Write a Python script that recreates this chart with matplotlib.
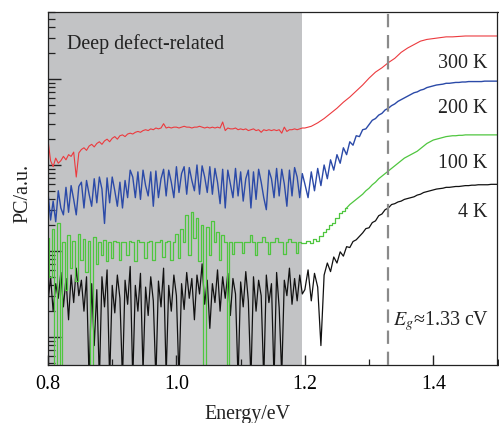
import numpy as np
import matplotlib
matplotlib.use("Agg")
import matplotlib.pyplot as plt
from matplotlib.ticker import LogLocator, NullFormatter, MultipleLocator

plt.rcParams['font.family'] = ['Liberation Serif', 'DejaVu Serif']
plt.rcParams['mathtext.fontset'] = 'stix'

# ---------------- data (log10 of photocurrent, arbitrary units) ----------------
# energy grids (eV)
energy_low = np.round(0.800 + 0.004 * np.arange(100), 3)       # 0.800 ... 1.196
energy_high = np.round(1.200 + 0.005 * np.arange(61), 3)       # 1.200 ... 1.500
energy_high_red = np.round(1.20 + 0.01 * np.arange(31), 2)     # 1.20 ... 1.50

labels = ["300 K", "200 K", "100 K", "4 K"]

log_pc_300K_low = [
    2.29, 2.05, 1.98, 2.08, 2.02, 2.05, 2.10, 2.06, 2.12, 2.10,
    2.15, 1.86, 2.14, 2.18, 2.20, 2.17, 2.22, 2.24, 2.21, 2.25,
    2.27, 2.24, 2.28, 2.30, 2.27, 2.31, 2.33, 2.30, 2.34, 2.35,
    2.33, 2.36, 2.37, 2.36, 2.38, 2.39, 2.38, 2.40, 2.41, 2.40,
    2.42, 2.41, 2.43, 2.42, 2.43, 2.48, 2.43, 2.44, 2.43, 2.44,
    2.44, 2.43, 2.44, 2.45, 2.44, 2.44, 2.43, 2.44, 2.44, 2.45,
    2.44, 2.43, 2.44, 2.43, 2.44, 2.43, 2.44, 2.43, 2.50, 2.40,
    2.43, 2.42, 2.42, 2.43, 2.41, 2.42, 2.41, 2.42, 2.40, 2.41,
    2.42, 2.40, 2.41, 2.38, 2.41, 2.40, 2.41, 2.40, 2.41, 2.40,
    2.41, 2.37, 2.44, 2.39, 2.41, 2.41, 2.42, 2.41, 2.42, 2.43,
]
log_pc_300K_high = [
    2.43, 2.45, 2.49, 2.54, 2.60, 2.66, 2.73, 2.79, 2.86, 2.93,
    3.01, 3.08, 3.13, 3.19, 3.24, 3.31, 3.36, 3.40, 3.44, 3.46,
    3.47, 3.48, 3.49, 3.49, 3.495, 3.50, 3.50, 3.50, 3.50, 3.50, 3.50,
]

log_pc_200K_low = [
    1.68, 1.36, 1.58, 1.34, 1.70, 1.50, 1.42, 1.74, 1.45, 1.76,
    1.60, 1.42, 1.75, 1.80, 1.50, 1.82, 1.66, 1.52, 1.84, 1.56,
    1.86, 1.72, 1.32, 1.85, 1.56, 1.86, 1.70, 1.52, 1.80, 1.50,
    1.82, 1.62, 1.94, 1.86, 1.62, 1.92, 1.60, 1.94, 1.76, 1.64,
    1.92, 1.52, 1.93, 1.62, 1.84, 1.95, 1.64, 1.94, 1.80, 1.62,
    1.98, 1.68, 1.90, 1.98, 1.66, 1.97, 1.82, 1.70, 2.00, 1.66,
    1.99, 1.86, 1.68, 1.98, 1.66, 1.96, 1.80, 1.55, 1.95, 1.50,
    1.94, 1.78, 1.62, 1.96, 1.64, 1.92, 1.58, 1.84, 1.94, 1.50,
    1.92, 1.60, 1.95, 1.80, 1.62, 1.48, 1.94, 1.84, 1.62, 1.96,
    1.64, 1.95, 1.78, 1.52, 1.94, 1.64, 1.97, 1.86, 1.62, 1.90,
]
log_pc_200K_high = [
    1.78, 1.62, 1.92, 1.70, 1.96, 1.76, 2.00, 1.84, 2.06, 1.94,
    2.12, 2.02, 2.20, 2.12, 2.27, 2.23, 2.34, 2.33, 2.41, 2.42,
    2.47, 2.52, 2.54, 2.58, 2.60, 2.64, 2.66, 2.69, 2.71, 2.74,
    2.76, 2.78, 2.80, 2.82, 2.84, 2.85, 2.87, 2.88, 2.90, 2.91,
    2.92, 2.93, 2.935, 2.94, 2.95, 2.95, 2.955, 2.96, 2.96, 2.965,
    2.965, 2.97, 2.97, 2.97, 2.97, 2.97, 2.975, 2.975, 2.975, 2.975, 2.975,
]

log_pc_100K_low = [
    1.15, 0.70, 1.25, -0.50, 1.33, -0.50, 1.10, 0.55, 1.18, 0.80,
    1.12, 0.65, 1.20, 0.90, 1.14, 0.75, 1.12, -0.50, 1.16, 0.85,
    1.10, 0.95, 1.13, 0.88, 1.10, 0.92, 1.12, 1.10, 0.90, 1.11,
    1.10, 0.95, 1.12, 1.10, 0.88, 1.13, 1.10, 1.11, 0.92, 1.10,
    1.12, 0.90, 1.11, 1.10, 1.13, 0.93, 1.11, 1.12, 0.90, 1.10,
    1.20, 0.92, 1.25, 1.10, 1.42, 0.95, 1.45, 1.15, 1.38, 0.88,
    1.30, -0.50, 1.28, 0.95, 1.35, 1.10, 1.22, 0.90, 1.18, 1.10,
    -0.50, 1.11, 0.96, 1.10, 1.11, 1.10, 0.98, 1.10, 1.10, 1.18,
    1.10, 0.95, 1.10, 1.10, 1.16, 1.10, 0.97, 1.10, 1.10, 1.15,
    1.10, 1.10, 0.96, 1.10, 1.14, 1.10, 1.10, 0.98, 1.10, 1.09,
]
log_pc_100K_high = [
    1.09, 1.12, 1.09, 1.14, 1.12, 1.17, 1.22, 1.26, 1.30, 1.33,
    1.38, 1.44, 1.47, 1.50, 1.54, 1.57, 1.60, 1.63, 1.66, 1.70,
    1.73, 1.77, 1.80, 1.84, 1.87, 1.90, 1.93, 1.96, 1.99, 2.02,
    2.05, 2.08, 2.10, 2.12, 2.14, 2.16, 2.19, 2.22, 2.25, 2.27,
    2.29, 2.30, 2.31, 2.32, 2.33, 2.335, 2.34, 2.34, 2.345, 2.345,
    2.35, 2.35, 2.35, 2.35, 2.35, 2.35, 2.35, 2.35, 2.35, 2.35, 2.35,
]

log_pc_4K_low = [
    0.40, 0.70, 0.30, 0.62, 0.45, 0.75, 0.35, 0.68, 0.20, 0.72,
    0.40, 0.80, 0.48, 0.66, 0.30, 0.70, -0.50, 0.62, -0.10, 0.55,
    -0.50, 0.70, 0.35, 0.78, -0.50, 0.60, 0.28, 0.72, 0.45, -0.50,
    0.66, 0.38, 0.82, -0.50, 0.60, 0.30, 0.74, -0.40, 0.58, 0.25,
    0.70, 0.42, -0.50, 0.65, 0.35, 0.80, -0.45, 0.60, 0.30, 0.72,
    0.48, -0.50, 0.62, 0.32, 0.75, 0.45, 0.68, 0.20, 0.72, 0.50,
    0.85, 0.38, 0.66, 0.10, 0.62, 0.40, 0.78, 0.30, 0.70, 0.45,
    0.74, 0.25, 0.68, 0.50, -0.50, 0.64, 0.35, 0.76, 0.42, -0.50,
    0.70, 0.30, 0.66, 0.48, -0.50, 0.72, 0.40, 0.62, -0.50, 0.75,
    0.34, -0.45, 0.66, 0.48, 0.80, 0.38, 0.68, 0.42, 0.72, 0.50,
]
log_pc_4K_high = [
    0.55, 0.78, 0.42, 0.74, 0.58, -0.10, 0.72, 0.86, 0.76, 0.93,
    0.86, 0.99, 0.94, 1.05, 1.04, 1.11, 1.13, 1.17, 1.21, 1.26,
    1.27, 1.33, 1.35, 1.41, 1.43, 1.48, 1.50, 1.54, 1.55, 1.57,
    1.58, 1.60, 1.61, 1.62, 1.63, 1.65, 1.66, 1.68, 1.69, 1.70,
    1.71, 1.72, 1.725, 1.73, 1.74, 1.74, 1.745, 1.75, 1.75, 1.755,
    1.76, 1.76, 1.765, 1.765, 1.77, 1.77, 1.77, 1.77, 1.775, 1.775, 1.775,
]

deep_region = (0.80, 1.195)
band_gap = 1.33

# ---------------- figure ----------------
fig = plt.figure(figsize=(4.99, 4.23), dpi=100)
ax = fig.add_axes([48 / 499, 1 - 365 / 423, (497.5 - 48) / 499, (365 - 12) / 423])

ax.axvspan(*deep_region, color='#c2c3c5', lw=0, zorder=0)

e_all = np.concatenate([energy_low, energy_high])
ax.plot(e_all, 10 ** np.array(log_pc_4K_low + log_pc_4K_high), color='#111111',
        lw=0.9, zorder=2)

# 100 K: stepped (quantised) trace at low signal, smooth line once it rises
green_all = np.array(log_pc_100K_low + log_pc_100K_high)
n_step = len(energy_low) + 14
ax.plot(e_all[:n_step], 10 ** green_all[:n_step], color='#4fc63f', lw=0.9,
        drawstyle='steps-mid', zorder=2.1)
ax.plot(e_all[n_step - 1:], 10 ** green_all[n_step - 1:], color='#4fc63f', lw=0.9,
        zorder=2.1)

ax.plot(e_all, 10 ** np.array(log_pc_200K_low + log_pc_200K_high), color='#2b4aa8',
        lw=1.0, zorder=2.2)
ax.plot(np.concatenate([energy_low, energy_high_red]),
        10 ** np.array(log_pc_300K_low + log_pc_300K_high), color='#ec3a3e', lw=0.8,
        zorder=2.3)

ax.axvline(band_gap, color='#8a8a8a', lw=1.6, ls=(0, (6, 3.5)), zorder=3)

ax.set_yscale('log')
ax.set_xlim(0.8, 1.5)
ax.set_ylim(10 ** -0.326, 10 ** 3.779)

ax.xaxis.set_minor_locator(MultipleLocator(0.1))
ax.set_xticks([0.8, 1.0, 1.2, 1.4])
ax.set_xticklabels(["0.8", "1.0", "1.2", "1.4"])
ax.yaxis.set_major_locator(LogLocator(base=10, numticks=10))
ax.yaxis.set_minor_locator(LogLocator(base=10, subs=np.arange(2, 10), numticks=20))
ax.yaxis.set_major_formatter(NullFormatter())
ax.yaxis.set_minor_formatter(NullFormatter())

ax.tick_params(axis='both', which='both', direction='in', top=False, right=False,
               color='#222222')
ax.tick_params(axis='x', which='major', length=7, width=1.0, pad=7, labelsize=14.4)
ax.tick_params(axis='x', which='minor', length=4, width=0.9)
ax.tick_params(axis='y', which='major', length=9, width=1.0)
ax.tick_params(axis='y', which='minor', length=5, width=0.9)
for sp in ax.spines.values():
    sp.set_linewidth(0.9)
    sp.set_color('#222222')

# text
ax.text(0.8297, 10 ** 3.349, "Deep defect-related", fontsize=14.4, ha='left', va='baseline',
        color='#222222')
text_x = 1.4836
for lab, yb in zip(labels, [3.128, 2.605, 1.965, 1.395]):
    ax.text(text_x, 10 ** yb, lab, fontsize=14.4, ha='right', va='baseline', color='#222222')
ax.text(1.3375, 10 ** 0.14, r"$E_g$≈1.33 cV", fontsize=14.4, ha='left', va='baseline',
        color='#222222')

fig.text(247.5 / 499, 1 - 419 / 423, "Energy/eV", fontsize=14.4, ha='center', va='baseline',
         color='#222222')
fig.text(23 / 499, 1 - 193 / 423, "PC/a.u.", fontsize=14.4, ha='center', va='center',
         rotation=90, color='#222222')

fig.savefig("out.png", dpi=100)
